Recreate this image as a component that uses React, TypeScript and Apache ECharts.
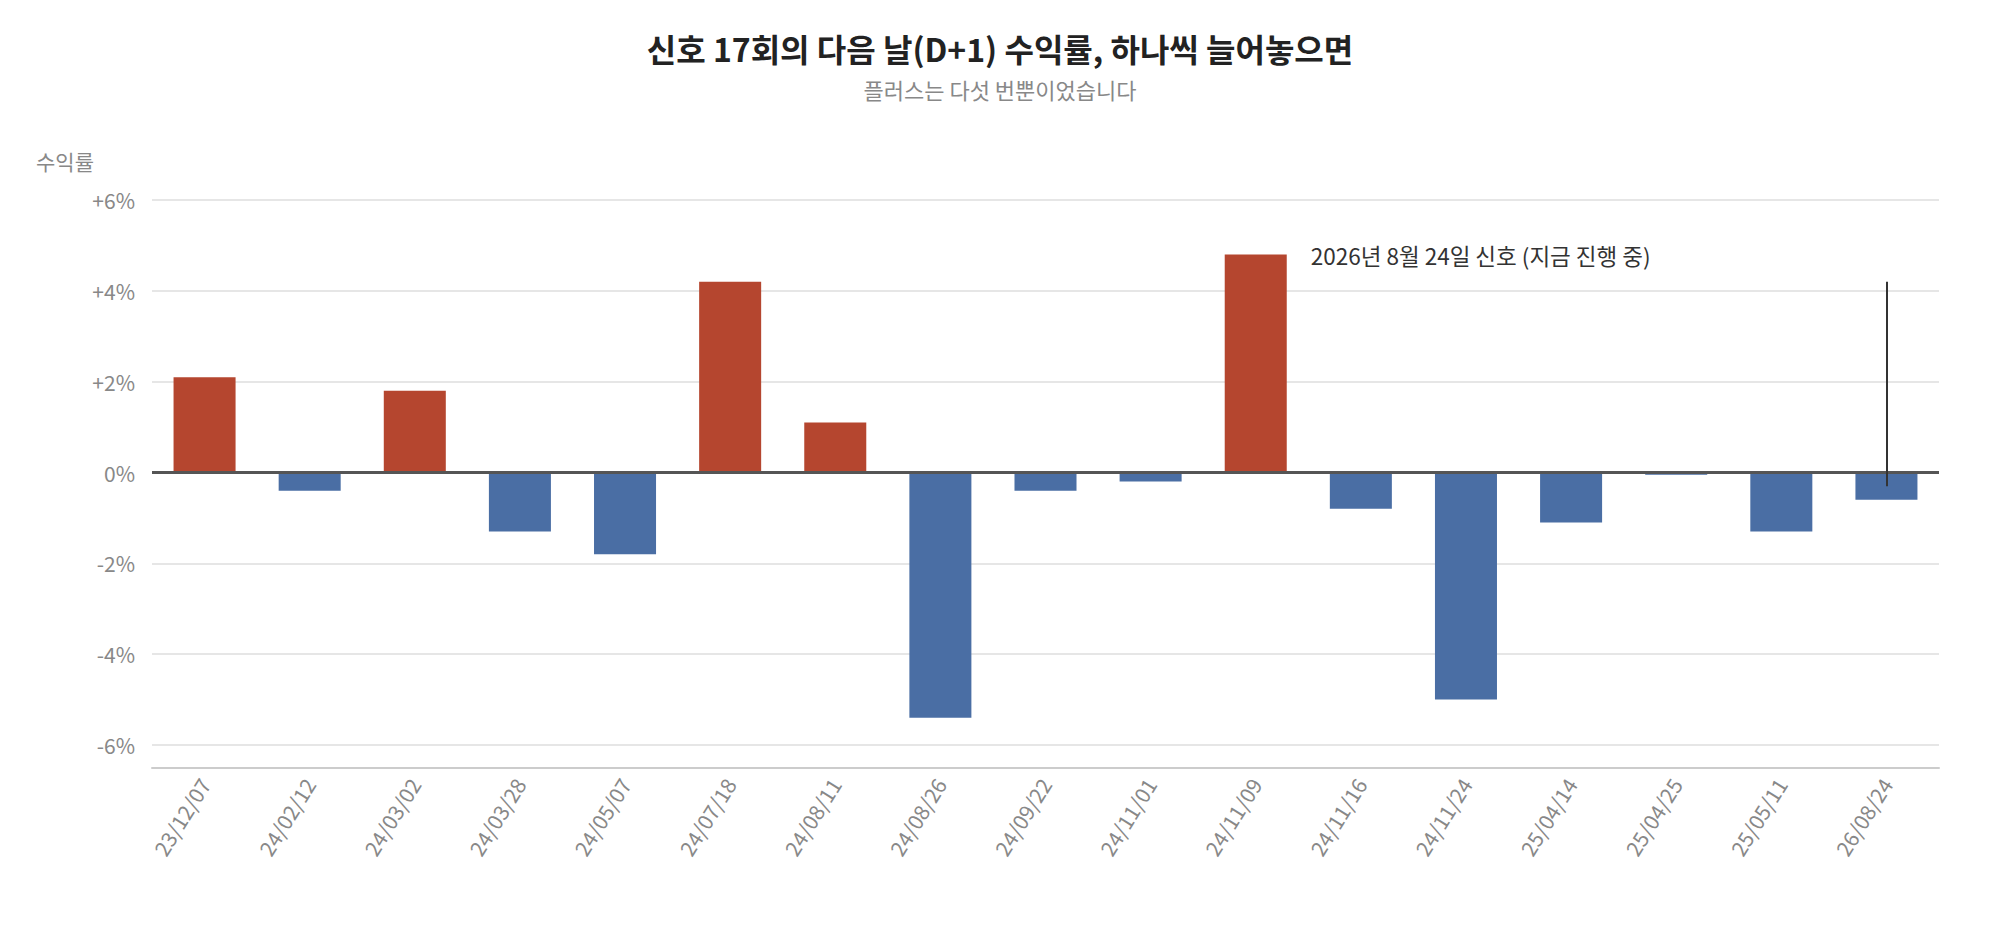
import React, { useEffect, useRef } from "react";
import * as echarts from "echarts";

const categories = [
  "23/12/07", "24/02/12", "24/03/02", "24/03/28", "24/05/07", "24/07/18",
  "24/08/11", "24/08/26", "24/09/22", "24/11/01", "24/11/09", "24/11/16",
  "24/11/24", "25/04/14", "25/04/25", "25/05/11", "26/08/24",
];
const returns = [
  2.1, -0.4, 1.8, -1.3, -1.8, 4.2, 1.1, -5.4, -0.4, -0.2, 4.8, -0.8, -5.0, -1.1, -0.05, -1.3, -0.6,
];
const currentSignal = "26/08/24";
const currentRange = [4.2, -0.3];
const annotationAnchor = { category: "24/11/09", value: 4.8 };
const annotationText = "2026년 8월 24일 신호 (지금 진행 중)";
const titleText = "신호 17회의 다음 날(D+1) 수익률, 하나씩 늘어놓으면";
const subtitleText = "플러스는 다섯 번뿐이었습니다";
const yAxisTitle = "수익률";
const yTicks = { min: -6, max: 6, interval: 2 };

const FONT = "'Noto Sans CJK KR', 'Noto Sans', sans-serif";
const RED = "#b5462f";
const BLUE = "#4a6ea4";

export default function App() {
  const ref = useRef<HTMLDivElement>(null);
  useEffect(() => {
    document.body.style.margin = "0";
    if (!ref.current) return;
    const chart = echarts.init(ref.current, undefined, { renderer: "svg" });
    chart.setOption({
      animation: false,
      backgroundColor: "#ffffff",
      textStyle: { fontFamily: FONT },
      title: {
        text: titleText,
        subtext: subtitleText,
        left: "center",
        top: 27,
        itemGap: 14,
        textStyle: { fontFamily: FONT, fontSize: 32, fontWeight: "bold", color: "#222" },
        subtextStyle: { fontFamily: FONT, fontSize: 22, color: "#888" },
      },
      graphic: [
        {
          type: "text",
          left: 36,
          top: 150,
          style: { text: yAxisTitle, fontFamily: FONT, fontSize: 21, fill: "#888" },
        },
      ],
      grid: { left: 152, right: 61, top: 200, bottom: 195, containLabel: false },
      xAxis: {
        type: "category",
        data: categories,
        offset: 23,
        axisLine: { onZero: false, lineStyle: { color: "#cccccc", width: 2 } },
        axisTick: { show: false },
        axisLabel: { rotate: 58, fontSize: 21, color: "#888", margin: 12, fontFamily: FONT },
      },
      yAxis: {
        type: "value",
        min: yTicks.min,
        max: yTicks.max,
        interval: yTicks.interval,
        axisLine: { show: false },
        axisTick: { show: false },
        splitLine: { lineStyle: { color: "#e6e6e6", width: 2 } },
        axisLabel: {
          fontSize: 21,
          color: "#888",
          margin: 17,
          fontFamily: FONT,
          formatter: (v: number) => (v > 0 ? `+${v}%` : `${v}%`),
        },
      },
      series: [
        {
          type: "bar",
          data: returns,
          barWidth: "59%",
          itemStyle: {
            color: (p: any) => (p.value >= 0 ? RED : BLUE),
          },
          markLine: {
            silent: true,
            symbol: ["none", "none"],
            label: { show: false },
            data: [
              { yAxis: 0, lineStyle: { color: "#555", width: 3, type: "solid" } },
              [
                { coord: [currentSignal, currentRange[0]], lineStyle: { color: "#333", width: 2, type: "solid" } },
                { coord: [currentSignal, currentRange[1]] },
              ],
            ],
          },
          markPoint: {
            silent: true,
            symbol: "circle",
            symbolSize: 0,
            data: [
              {
                coord: [annotationAnchor.category, annotationAnchor.value],
                label: {
                  show: true,
                  position: "right",
                  offset: [50, 0],
                  formatter: annotationText,
                  fontFamily: FONT,
                  fontSize: 22.5,
                  color: "#333",
                },
              },
            ],
          },
        },
      ],
    });
    return () => chart.dispose();
  }, []);
  return <div ref={ref} style={{ width: 2000, height: 940 }} />;
}
